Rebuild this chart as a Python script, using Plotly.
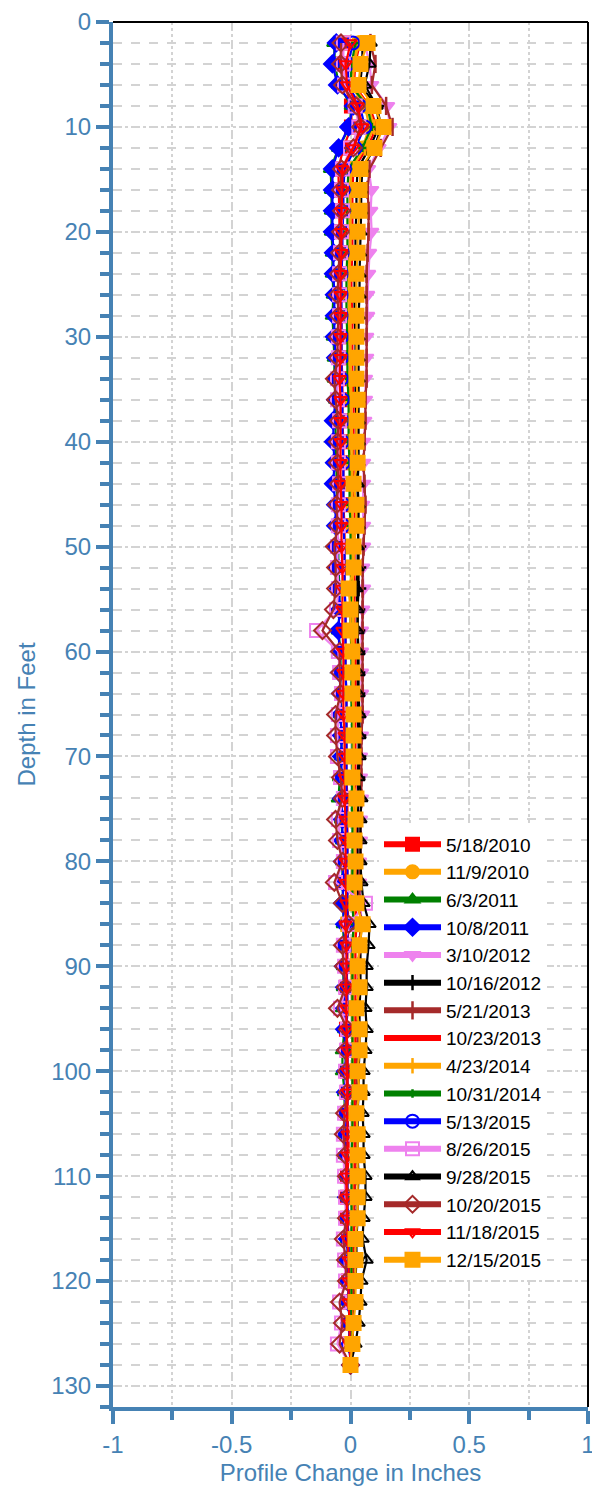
import plotly.graph_objects as go

depths = list(range(2, 129, 2))

dates = ["5/18/2010", "11/9/2010", "6/3/2011", "10/8/2011", "3/10/2012", "10/16/2012",
         "5/21/2013", "10/23/2013", "4/23/2014", "10/31/2014", "5/13/2015", "8/26/2015",
         "9/28/2015", "10/20/2015", "11/18/2015", "12/15/2015"]

x_tick_vals = [-1, -0.5, 0, 0.5, 1]
x_tick_text = ["-1", "-0.5", "0", "0.5", "1"]
y_tick_vals = [0, 10, 20, 30, 40, 50, 60, 70, 80, 90, 100, 110, 120, 130]

s_0518_2010 = [-0.03, -0.035, -0.025, 0.004, 0.004,
               -0.03, -0.051, -0.05, -0.046, -0.046,
               -0.042, -0.042, -0.042, -0.038, -0.038,
               -0.038, -0.034, -0.034, -0.034, -0.030,
               -0.030, -0.030, -0.030, -0.025, -0.025,
               -0.025, -0.025, -0.021, -0.021, -0.021,
               -0.021, -0.017, -0.017, -0.017, -0.017,
               -0.017, -0.013, -0.013, -0.013, -0.013,
               -0.013, -0.013, -0.008, -0.013, -0.013,
               -0.017, -0.013, -0.017, -0.013, -0.013,
               -0.013, -0.013, -0.008, -0.008, -0.013,
               -0.013, -0.013, -0.008, -0.008, -0.008,
               -0.004, -0.004, -0.004, 0.0]
s_1109_2010 = [0.03, 0.01, 0.0, 0.06, 0.08,
               0.05, 0.0, 0.0, -0.004, -0.004,
               -0.004, -0.008, -0.008, -0.008, -0.004,
               -0.004, -0.004, 0.0, 0.0, 0.0,
               0.0, 0.004, 0.004, 0.004, 0.008,
               0.008, 0.008, 0.008, 0.008, 0.013,
               0.013, 0.013, 0.013, 0.013, 0.013,
               0.013, 0.017, 0.013, 0.013, 0.013,
               0.013, 0.013, 0.017, 0.013, 0.013,
               0.013, 0.013, 0.013, 0.013, 0.013,
               0.013, 0.008, 0.008, 0.008, 0.008,
               0.008, 0.008, 0.004, 0.004, 0.004,
               0.004, 0.004, 0.0, 0.0]
s_0603_2011 = [-0.07, -0.065, -0.05, 0.004, -0.004,
               -0.05, -0.084, -0.08, -0.08, -0.08,
               -0.076, -0.076, -0.072, -0.076, -0.072,
               -0.068, -0.068, -0.063, -0.063, -0.063,
               -0.059, -0.059, -0.055, -0.055, -0.051,
               -0.051, -0.046, -0.046, -0.051, -0.042,
               -0.042, -0.038, -0.042, -0.038, -0.038,
               -0.046, -0.051, -0.038, -0.034, -0.034,
               -0.034, -0.030, -0.030, -0.030, -0.030,
               -0.030, -0.034, -0.025, -0.034, -0.034,
               -0.025, -0.025, -0.021, -0.021, -0.017,
               -0.017, -0.013, -0.013, -0.008, -0.008,
               -0.008, -0.004, -0.004, 0.0]
s_1008_2011 = [-0.06, -0.076, -0.055, 0.012, -0.008,
               -0.05, -0.076, -0.076, -0.076, -0.076,
               -0.072, -0.072, -0.068, -0.068, -0.068,
               -0.063, -0.063, -0.063, -0.072, -0.072,
               -0.068, -0.072, -0.063, -0.063, -0.059,
               -0.055, -0.051, -0.046, -0.051, -0.046,
               -0.046, -0.042, -0.042, -0.038, -0.038,
               -0.038, -0.038, -0.034, -0.034, -0.034,
               -0.030, -0.034, -0.025, -0.025, -0.030,
               -0.025, -0.025, -0.025, -0.021, -0.021,
               -0.021, -0.021, -0.017, -0.021, -0.017,
               -0.017, -0.013, -0.013, -0.013, -0.008,
               -0.008, -0.004, -0.004, 0.0]
s_0310_2012 = [0.06, 0.08, 0.089, 0.156, 0.165,
               0.12, 0.076, 0.089, 0.085, 0.089,
               0.08, 0.076, 0.072, 0.072, 0.068,
               0.068, 0.063, 0.063, 0.06, 0.055,
               0.055, 0.055, 0.051, 0.055, 0.055,
               0.051, 0.055, 0.051, 0.046, 0.046,
               0.046, 0.046, 0.051, 0.046, 0.042,
               0.042, 0.046, 0.042, 0.042, 0.038,
               0.038, 0.042, 0.046, 0.038, 0.034,
               0.034, 0.030, 0.034, 0.030, 0.025,
               0.025, 0.021, 0.021, 0.017, 0.017,
               0.017, 0.013, 0.013, 0.008, 0.008,
               0.008, 0.004, 0.004, 0.0]
s_1016_2012 = [0.05, 0.05, 0.04, 0.11, 0.12,
               0.08, 0.03, 0.025, 0.025, 0.021,
               0.021, 0.017, 0.017, 0.017, 0.021,
               0.021, 0.021, 0.021, 0.025, 0.025,
               0.025, 0.030, 0.030, 0.030, 0.034,
               0.034, 0.034, 0.030, 0.030, 0.030,
               0.030, 0.030, 0.030, 0.034, 0.034,
               0.030, 0.034, 0.030, 0.030, 0.030,
               0.030, 0.034, 0.046, 0.042, 0.042,
               0.042, 0.038, 0.038, 0.038, 0.034,
               0.034, 0.030, 0.030, 0.030, 0.034,
               0.030, 0.030, 0.025, 0.025, 0.021,
               0.017, 0.013, 0.008, 0.0]
s_0521_2013 = [0.084, 0.105, 0.09, 0.15, 0.177,
               0.127, 0.08, 0.072, 0.076, 0.076,
               0.072, 0.068, 0.068, 0.068, 0.068,
               0.068, 0.068, 0.063, 0.063, 0.059,
               0.055, 0.059, 0.063, 0.059, 0.055,
               0.051, 0.051, 0.051, 0.051, 0.051,
               0.051, 0.051, 0.051, 0.046, 0.046,
               0.046, 0.046, 0.042, 0.042, 0.042,
               0.038, 0.038, 0.042, 0.038, 0.034,
               0.034, 0.030, 0.030, 0.030, 0.025,
               0.025, 0.025, 0.021, 0.021, 0.021,
               0.017, 0.017, 0.013, 0.013, 0.013,
               0.008, 0.008, 0.004, 0.0]
s_1023_2013 = [0.04, 0.02, 0.015, 0.08, 0.11,
               0.07, 0.013, 0.008, 0.008, 0.008,
               0.008, 0.004, 0.004, 0.008, 0.008,
               0.008, 0.008, 0.013, 0.013, 0.013,
               0.013, 0.013, 0.017, 0.017, 0.017,
               0.017, 0.017, 0.017, 0.017, 0.021,
               0.021, 0.021, 0.021, 0.021, 0.021,
               0.021, 0.021, 0.021, 0.021, 0.021,
               0.021, 0.021, 0.025, 0.021, 0.021,
               0.021, 0.021, 0.021, 0.021, 0.017,
               0.017, 0.017, 0.017, 0.017, 0.017,
               0.013, 0.013, 0.013, 0.008, 0.008,
               0.008, 0.004, 0.004, 0.0]
s_0423_2014 = [0.035, 0.015, 0.01, 0.075, 0.1,
               0.06, 0.004, 0.0, 0.0, 0.0,
               0.0, -0.004, -0.004, 0.0, 0.0,
               0.0, 0.004, 0.004, 0.004, 0.008,
               0.008, 0.008, 0.008, 0.008, 0.013,
               0.013, 0.008, 0.013, 0.013, 0.013,
               0.013, 0.013, 0.013, 0.013, 0.013,
               0.013, 0.013, 0.013, 0.013, 0.008,
               0.004, 0.0, -0.038, 0.0, 0.004,
               0.004, 0.008, 0.008, 0.008, 0.008,
               0.008, 0.008, 0.008, 0.008, 0.008,
               0.008, 0.008, 0.004, 0.004, 0.004,
               0.004, 0.004, 0.0, 0.0]
s_1031_2014 = [0.02, 0.005, 0.0, 0.07, 0.09,
               0.05, -0.008, -0.013, -0.013, -0.013,
               -0.013, -0.017, -0.017, -0.017, -0.013,
               -0.013, -0.013, -0.008, -0.008, -0.008,
               -0.004, -0.004, -0.004, 0.0, 0.0,
               0.0, 0.004, 0.0, 0.0, 0.004,
               0.004, 0.004, 0.004, 0.008, 0.008,
               0.008, 0.004, 0.008, 0.008, 0.008,
               0.008, 0.008, 0.013, 0.008, 0.008,
               0.008, 0.008, 0.008, 0.008, 0.008,
               0.008, 0.008, 0.008, 0.004, 0.004,
               0.004, 0.004, 0.004, 0.004, 0.004,
               0.004, 0.0, 0.0, 0.0]
s_0513_2015 = [0.01, -0.01, -0.01, 0.04, 0.06,
               0.02, -0.025, -0.03, -0.03, -0.034,
               -0.034, -0.038, -0.038, -0.038, -0.038,
               -0.038, -0.038, -0.034, -0.034, -0.034,
               -0.030, -0.030, -0.030, -0.030, -0.025,
               -0.025, -0.025, -0.021, -0.021, -0.021,
               -0.021, -0.017, -0.017, -0.017, -0.017,
               -0.017, -0.017, -0.017, -0.013, -0.013,
               -0.013, -0.013, -0.013, -0.013, -0.017,
               -0.013, -0.013, -0.017, -0.013, -0.013,
               -0.013, -0.013, -0.013, -0.017, -0.013,
               -0.013, -0.013, -0.008, -0.008, -0.008,
               -0.008, -0.004, -0.004, 0.0]
s_0826_2015 = [-0.03, -0.03, -0.025, 0.02, 0.035,
               0.0, -0.034, -0.038, -0.034, -0.038,
               -0.042, -0.046, -0.046, -0.046, -0.051,
               -0.051, -0.055, -0.055, -0.046, -0.051,
               -0.051, -0.046, -0.051, -0.051, -0.055,
               -0.055, -0.051, -0.059, -0.143, -0.051,
               -0.046, -0.038, -0.051, -0.055, -0.055,
               -0.042, -0.030, -0.051, -0.046, -0.030,
               -0.063, 0.063, -0.004, -0.030, -0.025,
               -0.021, -0.042, -0.013, -0.017, -0.021,
               -0.017, -0.025, -0.030, -0.030, -0.025,
               -0.021, -0.021, -0.030, -0.025, -0.021,
               -0.046, -0.038, -0.055, 0.0]
s_0928_2015 = [0.085, 0.08, 0.06, 0.11, 0.13,
               0.1, 0.05, 0.045, 0.045, 0.042,
               0.04, 0.038, 0.038, 0.034, 0.034,
               0.034, 0.034, 0.034, 0.034, 0.034,
               0.034, 0.030, 0.034, 0.034, 0.030,
               0.030, 0.025, 0.030, 0.030, 0.034,
               0.034, 0.034, 0.038, 0.038, 0.038,
               0.034, 0.046, 0.042, 0.042, 0.042,
               0.046, 0.055, 0.080, 0.076, 0.068,
               0.068, 0.063, 0.068, 0.063, 0.055,
               0.055, 0.051, 0.055, 0.055, 0.063,
               0.063, 0.055, 0.051, 0.068, 0.046,
               0.042, 0.034, 0.021, 0.0]
s_1020_2015 = [-0.04, -0.042, -0.034, 0.025, 0.042,
               0.012, -0.038, -0.042, -0.038, -0.042,
               -0.046, -0.051, -0.055, -0.051, -0.055,
               -0.055, -0.068, -0.063, -0.051, -0.055,
               -0.055, -0.051, -0.059, -0.055, -0.068,
               -0.063, -0.063, -0.072, -0.118, -0.046,
               -0.046, -0.042, -0.063, -0.063, -0.055,
               -0.042, -0.034, -0.063, -0.055, -0.034,
               -0.068, -0.034, -0.008, -0.034, -0.030,
               -0.021, -0.055, -0.013, -0.021, -0.017,
               -0.013, -0.025, -0.030, -0.021, -0.017,
               -0.013, -0.017, -0.030, -0.021, -0.017,
               -0.046, -0.034, -0.046, 0.0]
s_1118_2015 = [0.0, -0.02, -0.015, 0.03, 0.05,
               0.01, -0.034, -0.034, -0.038, -0.038,
               -0.038, -0.042, -0.042, -0.042, -0.042,
               -0.042, -0.046, -0.042, -0.042, -0.042,
               -0.042, -0.042, -0.038, -0.038, -0.038,
               -0.034, -0.034, -0.034, -0.034, -0.030,
               -0.030, -0.030, -0.030, -0.025, -0.025,
               -0.025, -0.025, -0.021, -0.021, -0.021,
               -0.021, -0.017, -0.021, -0.017, -0.017,
               -0.017, -0.017, -0.017, -0.013, -0.013,
               -0.013, -0.013, -0.013, -0.013, -0.017,
               -0.017, -0.013, -0.013, -0.008, -0.008,
               -0.008, -0.004, -0.004, 0.0]
s_1215_2015 = [0.072, 0.042, 0.034, 0.097, 0.139,
               0.101, 0.042, 0.038, 0.038, 0.030,
               0.030, 0.025, 0.025, 0.025, 0.025,
               0.025, 0.025, 0.030, 0.025, 0.025,
               0.030, 0.013, 0.025, 0.025, 0.013,
               0.013, -0.008, 0.0, 0.0, 0.008,
               0.008, 0.008, 0.013, 0.013, 0.013,
               0.008, 0.025, 0.021, 0.017, 0.021,
               0.017, 0.025, 0.051, 0.038, 0.030,
               0.038, 0.025, 0.038, 0.038, 0.030,
               0.038, 0.025, 0.030, 0.030, 0.030,
               0.030, 0.030, 0.021, 0.021, 0.021,
               0.021, 0.013, 0.008, 0.0]

series = [s_0518_2010, s_1109_2010, s_0603_2011, s_1008_2011, s_0310_2012, s_1016_2012,
          s_0521_2013, s_1023_2013, s_0423_2014, s_1031_2014, s_0513_2015, s_0826_2015,
          s_0928_2015, s_1020_2015, s_1118_2015, s_1215_2015]

colors = ["#FF0000", "#FFA500", "#008000", "#0000FF", "#EE82EE", "#000000",
          "#A52A2A", "#FF0000", "#FFA500", "#008000", "#0000FF", "#EE82EE",
          "#000000", "#A52A2A", "#FF0000", "#FFA500"]
symbols = ["square", "circle", "triangle-up", "diamond", "triangle-down", "cross-thin",
           "line-ns", None, "line-ns", "cross-thin", "circle-open", "square-open",
           "triangle-up-open", "diamond-open", "triangle-down-open", "square"]
sizes = [13, 13, 12, 13, 12, 11, 13, 0, 11, 6, 13, 13, 11, 13, 11, 14]

STEEL = "#4682B4"
GRID = "#D3D3D3"
FONT = "Liberation Sans"

fig = go.Figure()

def marker_for(i):
    sym = symbols[i]
    if sym is None:
        return None
    lw = 2
    if sym in ("line-ns", "cross-thin"):
        lw = 2.5
    return dict(symbol=sym, size=sizes[i], color=colors[i],
                line=dict(color=colors[i], width=lw))

for i, (name, vals) in enumerate(zip(dates, series)):
    m = marker_for(i)
    fig.add_trace(go.Scatter(
        x=vals, y=depths, name=name, mode="lines+markers" if m else "lines",
        line=dict(color=colors[i], width=2.2), marker=m, showlegend=False,
        hoverinfo="x+y+name"))

# legend-only entries (thicker legend lines like the reference)
for i, name in enumerate(dates):
    m = marker_for(i)
    fig.add_trace(go.Scatter(
        x=[None], y=[None], name=name, mode="lines+markers" if m else "lines",
        line=dict(color=colors[i], width=6), marker=m, showlegend=True))

fig.update_layout(
    width=600, height=1493,
    margin=dict(l=105, r=20, t=14, b=94, autoexpand=False),
    plot_bgcolor="white", paper_bgcolor="white",
    font=dict(family=FONT, color=STEEL),
    showlegend=True,
    legend=dict(x=0.56, y=0.42, xanchor="left", yanchor="top",
                bgcolor="white", borderwidth=0, itemwidth=57,
                font=dict(family=FONT, size=19, color="black"),
                tracegroupgap=0),
    xaxis=dict(
        range=[-1, 1], tickvals=x_tick_vals, ticktext=x_tick_text, automargin=False,
        ticklabeloverflow="allow",
        ticks="outside", ticklen=13, tickwidth=4, tickcolor=STEEL,
        showline=True, linecolor=STEEL, linewidth=4,
        showgrid=True, gridcolor=GRID, gridwidth=1.5, griddash="dash",
        zeroline=False,
        minor=dict(dtick=0.25, tick0=-1, ticks="outside", ticklen=9, tickwidth=4,
                   tickcolor=STEEL, showgrid=True, gridcolor=GRID, gridwidth=1.5,
                   griddash="dot"),
        tickfont=dict(size=24, color=STEEL, family=FONT),
        title=dict(text="Profile Change in Inches", font=dict(size=24, color=STEEL, family=FONT),
                   standoff=8),
    ),
    yaxis=dict(
        range=[132, 0], tickvals=y_tick_vals, automargin=False,
        ticklabeloverflow="allow",
        ticks="outside", ticklen=13, tickwidth=4, tickcolor=STEEL,
        showline=True, linecolor=STEEL, linewidth=4,
        showgrid=True, gridcolor=GRID, gridwidth=1.5, griddash="dot",
        zeroline=False,
        minor=dict(dtick=2, tick0=0, ticks="outside", ticklen=9, tickwidth=4,
                   tickcolor=STEEL, showgrid=True, gridcolor=GRID, gridwidth=1.5,
                   griddash="dash"),
        tickfont=dict(size=24, color=STEEL, family=FONT),
        title=dict(text="Depth in Feet", font=dict(size=24, color=STEEL, family=FONT),
                   standoff=10),
    ),
    shapes=[
        dict(type="line", xref="paper", yref="paper", x0=0, x1=1, y0=1, y1=1,
             line=dict(color="black", width=2)),
        dict(type="line", xref="paper", yref="paper", x0=1, x1=1, y0=0, y1=1,
             line=dict(color="black", width=2)),
    ],
)

fig.write_html("out.html")
